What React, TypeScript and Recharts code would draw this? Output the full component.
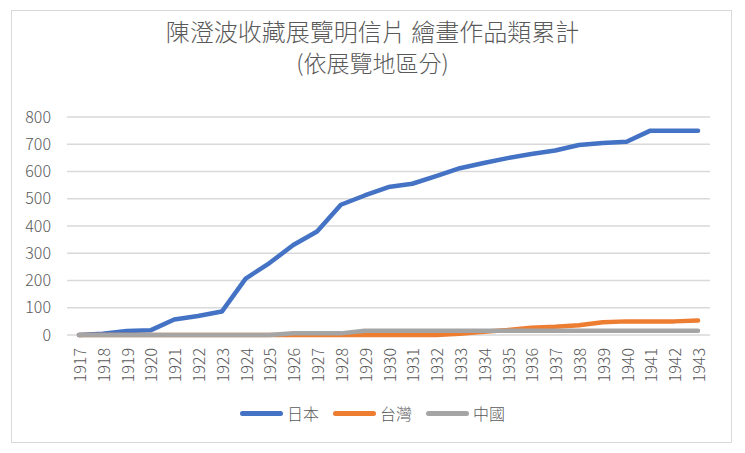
import { LineChart, Line, XAxis, YAxis, CartesianGrid } from "recharts";

const years = [
  "1917", "1918", "1919", "1920", "1921", "1922", "1923", "1924", "1925",
  "1926", "1927", "1928", "1929", "1930", "1931", "1932", "1933", "1934",
  "1935", "1936", "1937", "1938", "1939", "1940", "1941", "1942", "1943",
];

const japan = [
  0, 5, 15, 17, 57, 70, 86, 207, 264, 330, 380, 478, 512, 543, 555, 583,
  612, 631, 649, 664, 677, 697, 705, 709, 750, 750, 750,
];
const taiwan = [
  0, 0, 0, 0, 0, 0, 0, 0, 0, 0, 0, 0, 0, 0, 0, 0, 5, 12, 18, 27, 30, 36,
  47, 50, 50, 50, 53,
];
const china = [
  0, 0, 0, 0, 0, 0, 0, 0, 0, 6, 6, 6, 16, 16, 16, 16, 16, 16, 16, 16, 16,
  16, 16, 16, 16, 16, 16,
];

const yTicks = [0, 100, 200, 300, 400, 500, 600, 700, 800];

const series = [
  { key: "japan", name: "日本", color: "#4472C4" },
  { key: "taiwan", name: "台灣", color: "#ED7D31" },
  { key: "china", name: "中國", color: "#A5A5A5" },
];

const data = years.map((year, i) => ({
  year,
  japan: japan[i],
  taiwan: taiwan[i],
  china: china[i],
}));

const font = '"Noto Sans CJK TC", "Noto Sans", sans-serif';
const textColor = "#595959";

const YearTick = ({ x, y, payload }: any) => (
  <text
    x={x}
    y={y}
    transform={`rotate(-90 ${x} ${y})`}
    textAnchor="end"
    dominantBaseline="central"
    fontSize={16}
    fontWeight={300}
    fontFamily={font}
    fill={textColor}
  >
    {payload.value}
  </text>
);

const titleStyle: React.CSSProperties = {
  position: "absolute",
  left: 0,
  width: 745,
  textAlign: "center",
  fontSize: 24,
  lineHeight: "24px",
  color: textColor,
};

export default function App() {
  return (
    <div
      style={{
        position: "absolute",
        left: 0,
        top: 0,
        width: 745,
        height: 453,
        background: "#fff",
        fontFamily: font,
        fontWeight: 300,
      }}
    >
      <div
        style={{
          position: "absolute",
          left: 11,
          top: 10,
          width: 719,
          height: 431,
          border: "1.5px solid #D9D9D9",
        }}
      />
      <div style={{ ...titleStyle, top: 19 }}>陳澄波收藏展覽明信片 繪畫作品類累計</div>
      <div style={{ ...titleStyle, top: 50, fontSize: 23 }}>(依展覽地區分)</div>
      <LineChart
        width={745}
        height={453}
        data={data}
        margin={{ top: 117, right: 35, bottom: 58, left: 0 }}
        style={{ position: "absolute", left: 0, top: 0 }}
      >
        <CartesianGrid vertical={false} stroke="#D9D9D9" strokeWidth={1.5} />
        <XAxis
          dataKey="year"
          interval={0}
          axisLine={false}
          tickLine={false}
          tickMargin={7}
          height={60}
          padding={{ left: 12, right: 12 }}
          tick={<YearTick />}
        />
        <YAxis
          domain={[0, 800]}
          ticks={yTicks}
          axisLine={false}
          tickLine={false}
          width={67}
          tickMargin={10}
          tick={{ fontSize: 16, fill: textColor, fontFamily: font, fontWeight: 300 }}
        />
        {series.map((s) => (
          <Line
            key={s.key}
            type="linear"
            dataKey={s.key}
            name={s.name}
            stroke={s.color}
            strokeWidth={4.5}
            strokeLinecap="round"
            strokeLinejoin="round"
            dot={false}
            activeDot={false}
            isAnimationActive={false}
          />
        ))}
      </LineChart>
      <div
        style={{
          position: "absolute",
          left: 0,
          width: 745,
          top: 401,
          display: "flex",
          justifyContent: "center",
          gap: 14,
          fontSize: 16,
          lineHeight: "24px",
          color: textColor,
        }}
      >
        {series.map((s) => (
          <div key={s.key} style={{ display: "flex", alignItems: "center", gap: 4 }}>
            <div
              style={{
                width: 43,
                height: 5,
                borderRadius: 3,
                background: s.color,
              }}
            />
            <span>{s.name}</span>
          </div>
        ))}
      </div>
    </div>
  );
}
